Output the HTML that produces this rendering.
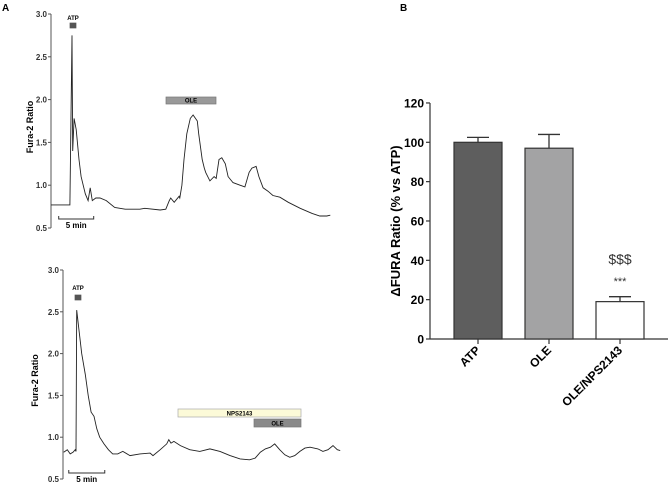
<!DOCTYPE html>
<html><head><meta charset="utf-8"><style>
body{margin:0;background:#fff;}
svg{display:block;font-family:"Liberation Sans",Arial,sans-serif;}
</style></head><body>
<svg id="fig" width="669" height="489" viewBox="0 0 669 489">
<text x="2" y="11" font-size="10" font-weight="bold">A</text>
<text x="400" y="11" font-size="10" font-weight="bold">B</text>
<g id="topTrace"></g>
<g id="botTrace"></g>
<g id="barChart"></g>
</svg>
<script>
const traceTicks=[0.5,1.0,1.5,2.0,2.5,3.0];
const topTime=[0,2.7,3.0,3.1,3.3,3.6,4.0,4.3,4.9,5.3,5.6,5.9,6.4,7.0,7.9,9.1,10.6,12.7,13.4,15.6,16.4,16.9,17.1,17.6,18.3,18.4,18.7,19.0,19.4,19.9,20.3,20.9,21.1,21.6,21.9,22.1,22.7,23.3,23.6,24.0,24.4,24.9,25.3,26.0,27.0,27.7,28.3,28.7,29.3,29.7,30.3,31.0,31.7,32.7,33.9,35.6,37.3,38.4,39.4,39.9];
const topRatio=[0.77,0.77,2.75,1.4,1.78,1.65,1.3,1.1,0.9,0.82,0.97,0.82,0.85,0.85,0.82,0.74,0.72,0.72,0.73,0.71,0.72,0.82,0.85,0.80,0.87,0.85,1.0,1.3,1.6,1.78,1.82,1.75,1.6,1.3,1.2,1.15,1.05,1.1,1.08,1.3,1.32,1.25,1.1,1.03,1.0,0.98,1.15,1.2,1.22,1.1,0.97,0.93,0.88,0.86,0.8,0.73,0.67,0.64,0.64,0.65];
const botTime=[0.1,0.6,1.0,1.4,1.7,1.8,1.9,2.2,2.6,3.1,3.5,3.9,4.3,4.7,5.1,5.7,6.3,6.9,7.6,8.3,9.3,10.7,12.1,12.5,13.5,14.4,14.7,15.0,15.4,16.3,17.6,19.0,20.4,21.8,23.2,24.6,25.9,26.7,27.4,28.1,28.8,29.4,30.1,30.8,31.5,32.2,32.9,33.6,34.3,35.4,36.1,36.8,37.5,38.1,38.5];
const botRatio=[0.82,0.85,0.8,0.82,0.85,0.83,2.52,2.3,2.0,1.75,1.5,1.3,1.25,1.1,1.0,0.92,0.85,0.8,0.8,0.83,0.78,0.8,0.81,0.78,0.85,0.92,0.97,0.93,0.95,0.9,0.85,0.83,0.86,0.83,0.78,0.74,0.73,0.75,0.82,0.86,0.88,0.92,0.85,0.79,0.76,0.78,0.83,0.87,0.88,0.86,0.83,0.85,0.9,0.85,0.84];
const barCats=["ATP","OLE","OLE/NPS2143"];
const barVals=[100,97,19];
const barErr=[2.5,7,2.5];
const barTicks=[0,20,40,60,80,100,120];

const NS="http://www.w3.org/2000/svg";
function mk(p,t,a,txt){const e=document.createElementNS(NS,t);for(const k in a)e.setAttribute(k,a[k]);if(txt!==undefined)e.textContent=txt;p.appendChild(e);return e;}

function trace(g,cfg,times,vals){
 const X=t=>cfg.x0+t*cfg.ppm, Y=v=>cfg.y05-(v-0.5)*cfg.ppu;
 let e=mk(g,'line',{x1:cfg.x0,x2:cfg.x0,y1:Y(3),y2:Y(0.5),stroke:'#555','stroke-width':1});
 
 
 traceTicks.forEach(v=>{
  let t=mk(g,'line',{x1:cfg.x0-3,x2:cfg.x0,y1:Y(v),y2:Y(v),stroke:'#555'});
  
  
  let l=mk(g,'text',{x:cfg.x0-4,y:Y(v)+3,'font-size':8,'font-weight':'bold','text-anchor':'end',fill:'#333'},v.toFixed(1));
  
  
 });
 const cy=(Y(3)+Y(0.5))/2+6;
 let tt=mk(g,'text',{x:cfg.tx,y:cy,'font-size':9,'font-weight':'bold','text-anchor':'middle',transform:`rotate(-90 ${cfg.tx} ${cy})`},'Fura-2 Ratio');
 
 
 let pts=times.map((t,i)=>X(t).toFixed(1)+','+Y(vals[i]).toFixed(1)).join(' ');
 let pl=mk(g,'polyline',{points:pts,fill:'none',stroke:'#222','stroke-width':0.9});
 
 
 const sy=cfg.sby, sx=X(cfg.sbt);
 let sb=mk(g,'path',{d:`M${sx},${sy-3}V${sy}H${sx+5*cfg.ppm}V${sy-3}`,fill:'none',stroke:'#333'});
 
 
 let st=mk(g,'text',{x:sx+2.5*cfg.ppm,y:sy+9,'font-size':8,'font-weight':'bold','text-anchor':'middle'},'5 min');
 
 
}
function rectLab(g,x,y,w,h,fill,stroke,txt,name){
 let r=mk(g,'rect',{x:x,y:y,width:w,height:h,fill:fill,stroke:stroke,'stroke-width':0.7});
 
 
 if(txt){let t=mk(g,'text',{x:x+w/2,y:y+h-1.5,'font-size':6,'font-weight':'bold','text-anchor':'middle'},txt);
 
 }
}
const topG=document.getElementById('topTrace');
trace(topG,{x0:51,ppm:7,y05:228,ppu:85.6,tx:33,sby:219,sbt:1.1},topTime,topRatio);
let a1=mk(topG,'text',{x:73,y:20,'font-size':6,'font-weight':'bold','text-anchor':'middle'},'ATP');


rectLab(topG,70,23,6,5,'#555','#555','','atp-marker');
rectLab(topG,166,97,50,7,'#999','#777','OLE','ole-bar');

const botG=document.getElementById('botTrace');
trace(botG,{x0:63,ppm:7.2,y05:479,ppu:83.6,tx:38,sby:473,sbt:0.8},botTime,botRatio);
let a2=mk(botG,'text',{x:78,y:290,'font-size':6,'font-weight':'bold','text-anchor':'middle'},'ATP');


rectLab(botG,75,295,6,5,'#555','#555','','atp-marker');
rectLab(botG,178,409,123,8,'#fcfad8','#aaa','NPS2143','nps2143-bar');
rectLab(botG,254,419,47,8,'#8a8a8a','#777','OLE','ole-bar');

const barG=document.getElementById('barChart');
const bx0=430,by0=339,bpu=1.967,bw=48,centers=[478,549,620];
const BY=v=>by0-v*bpu;
let ax=mk(barG,'line',{x1:bx0,x2:bx0,y1:BY(120),y2:by0,stroke:'#333','stroke-width':1.2});


let xa=mk(barG,'line',{x1:bx0,x2:668,y1:by0,y2:by0,stroke:'#333','stroke-width':1.2});


barTicks.forEach(v=>{
 let t=mk(barG,'line',{x1:bx0-4,x2:bx0,y1:BY(v),y2:BY(v),stroke:'#333','stroke-width':1.2});
 
 
 let l=mk(barG,'text',{x:bx0-6,y:BY(v)+4.5,'font-size':12,'font-weight':'bold','text-anchor':'end'},v);
 
 
});
let yt=mk(barG,'text',{x:400,y:221,'font-size':13,'font-weight':'bold','text-anchor':'middle',transform:'rotate(-90 400 221)'},'ΔFURA Ratio (% vs ATP)');


const fills=['#5e5e5e','#a3a3a4','#ffffff'];
barCats.forEach((c,i)=>{
 const cx=centers[i];
 let eb=mk(barG,'path',{d:`M${cx},${BY(barVals[i])}V${BY(barVals[i]+barErr[i])}M${cx-11},${BY(barVals[i]+barErr[i])}H${cx+11}`,stroke:'#333','stroke-width':1.3,fill:'none'});
 
 
 let r=mk(barG,'rect',{x:cx-bw/2,y:BY(barVals[i]),width:bw,height:barVals[i]*bpu,fill:fills[i],stroke:'#333','stroke-width':1.2});
 
 
 let tk=mk(barG,'line',{x1:cx,x2:cx,y1:by0,y2:by0+5,stroke:'#333','stroke-width':1.2});
 
 
 let l=mk(barG,'text',{x:cx+3,y:by0+12,'font-size':12,'font-weight':'bold','text-anchor':'end',transform:`rotate(-45 ${cx+3} ${by0+12})`},c);
 
 
});
let s1=mk(barG,'text',{x:620,y:264,'font-size':14,'text-anchor':'middle',fill:'#333'},'$$$');


let s2=mk(barG,'text',{x:620,y:285,'font-size':11,'text-anchor':'middle',fill:'#333'},'***');


</script>
</body></html>
